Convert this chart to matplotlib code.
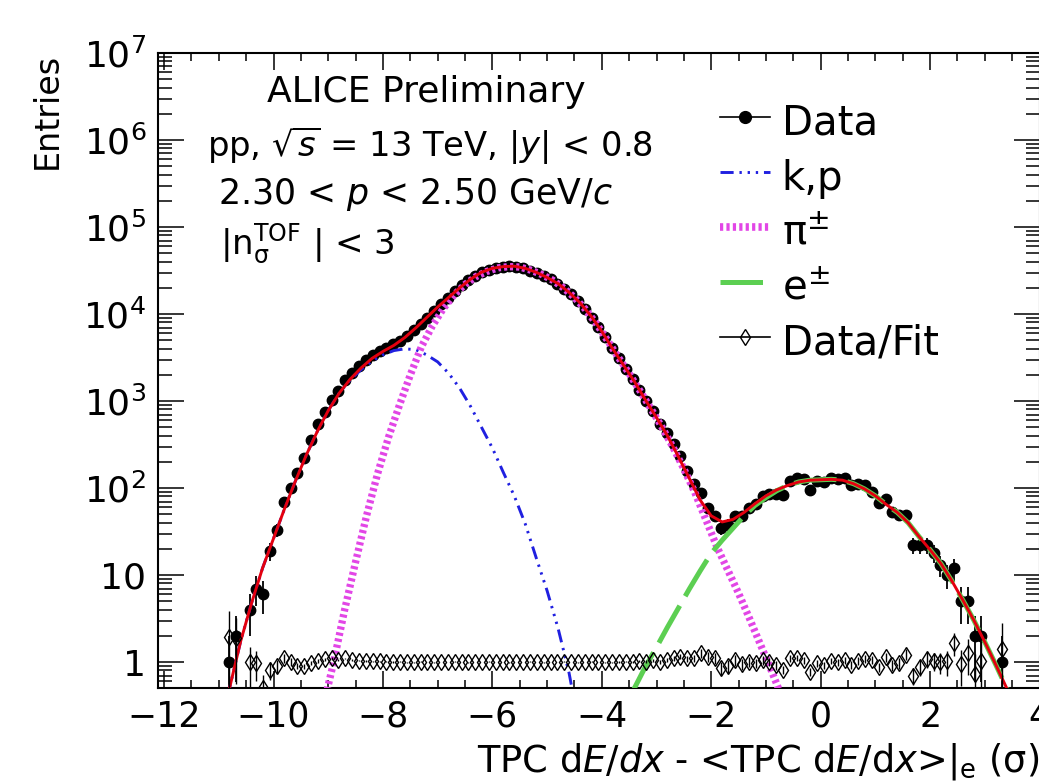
import numpy as np
import matplotlib
matplotlib.use('Agg')
import matplotlib.pyplot as plt
from matplotlib.lines import Line2D
from matplotlib.ticker import MultipleLocator, LogLocator, FuncFormatter

plt.rcParams['font.family'] = ['DejaVu Sans']
plt.rcParams['mathtext.fontset'] = 'dejavusans'

# histogram binning (bin width 0.125)
bin_first = -10.8125
bin_width = 0.125
n_bins = 114

# data counts per bin (nan = empty bin)
data_counts = [
    1, 2, np.nan, 4, 7, 6, 19, 33, 69, 100,
    148, 224, 355, 550, 740, 1020, 1290, 1740, 2090, 2550,
    2970, 3380, 3720, 4070, 4470, 4900, 5620, 6610, 7760, 9120,
    10960, 12880, 15140, 18200, 21380, 24550, 27540, 30200, 32360, 33880,
    35080, 35480, 35080, 33880, 31620, 29510, 27540, 25120, 22390, 19500,
    16980, 14130, 11480, 9120, 7080, 5500, 4070, 3090, 2340, 1780,
    1340, 990, 778, 550, 427, 317, 235, 155, 110, 87,
    59, 48, 35, 38, 48, 48, 59, 66, 82, 85,
    86, 84, 121, 129, 126, 95, 119, 116, 130, 126,
    129, 107, 110, 107, 91, 67, 75, 53, 49, 49,
    22, 22, 22, 18, 13, 10, 12, 5, 5, 2,
    2, np.nan, np.nan, 1]

# data / fit per bin
ratio_vals = [
    1.95, 1.90, np.nan, 1.00, 0.97, 0.50, 0.81, 0.90, 1.10, 1.00,
    0.90, 0.90, 0.97, 1.03, 1.08, 1.10, 1.05, 1.10, 1.05, 1.04,
    1.03, 1.02, 1.02, 1.01, 1.00, 1.01, 0.99, 1.00, 1.01, 1.00,
    0.99, 1.00, 1.00, 1.01, 1.00, 0.99, 1.00, 1.00, 1.01, 1.00,
    1.00, 0.99, 1.00, 1.00, 1.01, 1.00, 0.99, 1.00, 1.00, 1.01,
    1.00, 0.99, 1.00, 1.01, 1.00, 1.00, 0.99, 1.00, 1.01, 1.00,
    1.02, 1.01, 1.05, 1.00, 1.05, 1.10, 1.15, 1.10, 1.10, 1.26,
    1.15, 1.10, 0.85, 0.90, 1.05, 0.95, 1.00, 0.97, 1.05, 1.00,
    0.92, 0.82, 1.10, 1.12, 1.05, 0.77, 0.97, 0.92, 1.03, 1.00,
    1.05, 0.93, 1.03, 1.09, 1.05, 0.88, 1.14, 0.92, 0.98, 1.22,
    0.70, 0.88, 1.08, 1.04, 1.00, 1.02, 1.66, 0.96, 1.28, 0.72,
    1.02, np.nan, np.nan, 1.41]

# fit curves, read as log10(entries)
fit_x = [-10.86, -10.8, -10.6, -10.4, -10.2, -10.0, -9.8, -9.6, -9.4, -9.2,
         -9.0, -8.8, -8.6, -8.4, -8.2, -8.0, -7.8, -7.6, -7.4, -7.2,
         -7.0, -6.8, -6.6, -6.4, -6.2, -6.0, -5.8, -5.6, -5.4, -5.2,
         -5.0, -4.8, -4.6, -4.4, -4.2, -4.0, -3.8, -3.6, -3.4, -3.2,
         -3.0, -2.8, -2.6, -2.4, -2.2, -2.0, -1.8, -1.6, -1.4, -1.2,
         -1.0, -0.8, -0.6, -0.4, -0.2, 0.0, 0.2, 0.4, 0.6, 0.8,
         1.0, 1.2, 1.4, 1.6, 1.8, 2.0, 2.2, 2.4, 2.6, 2.8,
         3.0, 3.2, 3.4, 3.46]
fit_log = [-0.40, -0.29, 0.24, 0.68, 1.08, 1.42, 1.76, 2.08, 2.38, 2.65,
           2.89, 3.09, 3.25, 3.38, 3.49, 3.57, 3.64, 3.73, 3.84, 3.96,
           4.08, 4.19, 4.30, 4.40, 4.48, 4.525, 4.545, 4.55, 4.525, 4.48,
           4.42, 4.35, 4.25, 4.13, 3.98, 3.80, 3.60, 3.41, 3.22, 3.01,
           2.81, 2.60, 2.36, 2.11, 1.86, 1.68, 1.61, 1.64, 1.72, 1.82,
           1.91, 1.98, 2.03, 2.07, 2.09, 2.095, 2.10, 2.09, 2.05, 1.99,
           1.91, 1.81, 1.72, 1.60, 1.44, 1.29, 1.13, 0.93, 0.71, 0.48,
           0.23, -0.03, -0.30, -0.38]

kp_x = [-10.86, -10.8, -10.6, -10.4, -10.2, -10.0, -9.8, -9.6, -9.4, -9.2,
        -9.0, -8.8, -8.6, -8.4, -8.2, -8.0, -7.8, -7.6, -7.4, -7.2,
        -7.0, -6.8, -6.6, -6.4, -6.2, -6.0, -5.8, -5.6, -5.4, -5.2,
        -5.0, -4.8, -4.6, -4.54]
kp_log = [-0.40, -0.29, 0.24, 0.68, 1.08, 1.42, 1.76, 2.08, 2.38, 2.65,
          2.89, 3.09, 3.24, 3.36, 3.46, 3.53, 3.58, 3.60, 3.59, 3.53,
          3.45, 3.32, 3.15, 2.94, 2.70, 2.46, 2.18, 1.91, 1.59, 1.20,
          0.82, 0.39, -0.12, -0.32]

pi_x = [-9.02, -8.9, -8.7, -8.5, -8.3, -8.1, -7.9, -7.7, -7.5, -7.3,
        -7.1, -6.9, -6.7, -6.5, -6.3, -6.1, -5.9, -5.7, -5.5, -5.3,
        -5.1, -4.9, -4.7, -4.5, -4.3, -4.1, -3.9, -3.7, -3.5, -3.3,
        -3.1, -2.9, -2.7, -2.5, -2.3, -2.1, -1.9, -1.7, -1.5, -1.3,
        -1.1, -0.9, -0.76]
pi_log = [-0.32, 0.0, 0.60, 1.15, 1.68, 2.16, 2.58, 2.95, 3.30, 3.62,
          3.86, 4.06, 4.22, 4.34, 4.43, 4.49, 4.53, 4.545, 4.54, 4.505,
          4.455, 4.39, 4.30, 4.19, 4.055, 3.89, 3.70, 3.505, 3.315, 3.115,
          2.91, 2.70, 2.47, 2.22, 1.95, 1.64, 1.33, 1.06, 0.79, 0.50,
          0.20, -0.10, -0.32]

e_x = [-3.42, -3.2, -3.0, -2.8, -2.6, -2.4, -2.2, -2.0, -1.8, -1.6,
       -1.4, -1.2, -1.0, -0.8, -0.6, -0.4, -0.2, 0.0, 0.2, 0.4,
       0.6, 0.8, 1.0, 1.2, 1.4, 1.6, 1.8, 2.0, 2.2, 2.4,
       2.6, 2.8, 3.0, 3.2, 3.4, 3.46]
e_log = [-0.32, -0.05, 0.17, 0.40, 0.62, 0.84, 1.05, 1.25, 1.40, 1.54,
         1.68, 1.80, 1.89, 1.97, 2.03, 2.07, 2.09, 2.095, 2.10, 2.09,
         2.05, 1.99, 1.91, 1.81, 1.72, 1.60, 1.44, 1.29, 1.13, 0.93,
         0.71, 0.48, 0.23, -0.03, -0.30, -0.38]

x_ticks = [-12, -10, -8, -6, -4, -2, 0, 2, 4]

# colours / styles
kp_color = '#2020e0'
pi_color = '#e246e6'
e_color = '#5ccf52'
fit_color = '#e3000f'
kp_ls = (0, (4.5, 2, 0.8, 2, 0.8, 2, 0.8, 2))
pi_ls = (0, (0.42, 0.42))
e_ls = (0, (8.5, 2.2))

x = bin_first + bin_width * np.arange(n_bins)
counts = np.array(data_counts, dtype=float)
ratio = np.array(ratio_vals, dtype=float)
count_err = np.sqrt(counts)          # Poisson errors
ratio_err = ratio / np.sqrt(counts)

fig = plt.figure(figsize=(10.39, 7.82), dpi=100)
ax = fig.add_axes([0.1516, 0.1202, 0.8489, 0.8120])

ax.errorbar(x, counts, yerr=count_err, fmt='o', color='black', ms=7.5,
            elinewidth=1.3, capsize=0, zorder=2)
ax.plot(kp_x, 10 ** np.array(kp_log), color=kp_color, lw=2.1, ls=kp_ls, zorder=3)
ax.plot(pi_x, 10 ** np.array(pi_log), color=pi_color, lw=5.3, ls=pi_ls, zorder=4)
ax.plot(e_x, 10 ** np.array(e_log), color=e_color, lw=3.6, ls=e_ls, zorder=5)
ax.plot(fit_x, 10 ** np.array(fit_log), color=fit_color, lw=2.1, zorder=6)
ax.errorbar(x, ratio, yerr=ratio_err, fmt='d', mfc='none', mec='black', mew=1.0,
            ms=8.5, color='black', elinewidth=1.0, capsize=0, zorder=7)

ax.set_yscale('log')
ax.set_xlim(-12.12, 4.0)
ax.set_ylim(0.503, 1e7)

ax.set_xticks(x_ticks)
ax.xaxis.set_minor_locator(MultipleLocator(0.5))
ax.yaxis.set_major_locator(LogLocator(base=10, numticks=20))
ax.yaxis.set_minor_locator(LogLocator(base=10, subs=np.arange(2, 10), numticks=20))


def ylab(v, pos):
    if v < 5:
        return '1'
    if v < 50:
        return '10'
    return r'$10^{%d}$' % int(round(np.log10(v)))


ax.yaxis.set_major_formatter(FuncFormatter(ylab))

ax.tick_params(which='both', direction='in', top=True, right=True, width=1.1)
ax.tick_params(axis='x', which='major', length=12.5, labelsize=25, pad=8.5)
ax.tick_params(axis='x', which='minor', length=5.8)
ax.tick_params(axis='y', which='major', length=19, labelsize=26, pad=8)
ax.tick_params(axis='y', which='minor', length=10)
for s in ax.spines.values():
    s.set_linewidth(1.5)

ax.set_ylabel('Entries', fontsize=24, loc='top')
ax.yaxis.set_label_coords(-0.106, 1.0)
ax.set_xlabel(r'TPC d$\it{E}$/$\it{dx}$ - <TPC d$\it{E}$/d$\it{x}$>|$_{\rm e}$ (σ)',
              fontsize=26.5, loc='right')
ax.xaxis.set_label_coords(1.0, -0.083)

# info text
ax.text(0.1241, 0.9228, 'ALICE Preliminary', transform=ax.transAxes, fontsize=26)
ax.text(0.0561, 0.8367, r'pp, $\sqrt{s}$ = 13 TeV, |$y$| < 0.8',
        transform=ax.transAxes, fontsize=24.3)
ax.text(0.0686, 0.7622, r'2.30 < $p$ < 2.50 GeV/$c$', transform=ax.transAxes, fontsize=25)
ax.text(0.0709, 0.6819, r'|n$_{\mathrm{\sigma}}^{\mathrm{TOF}}$ | < 3',
        transform=ax.transAxes, fontsize=24.5)

handles = [
    Line2D([], [], color='black', lw=1.2, marker='o', ms=8.5),
    Line2D([], [], color=kp_color, lw=2.1, ls=kp_ls),
    Line2D([], [], color=pi_color, lw=5.5, ls=pi_ls),
    Line2D([], [], color=e_color, lw=3.6, ls=e_ls),
    Line2D([], [], color='black', lw=1.2, marker='d', ms=8.5, mfc='none'),
]
labels = ['Data', 'k,p', r'$\mathrm{\pi}^{\pm}$', r'e$^{\pm}$', 'Data/Fit']
ax.legend(handles, labels, loc='upper left', bbox_to_anchor=(0.638, 0.927),
          frameon=False, fontsize=29, handlelength=1.24, handletextpad=0.29,
          handleheight=1.3, labelspacing=0.26, borderpad=0, borderaxespad=0)

fig.savefig('out.png', dpi=100)
